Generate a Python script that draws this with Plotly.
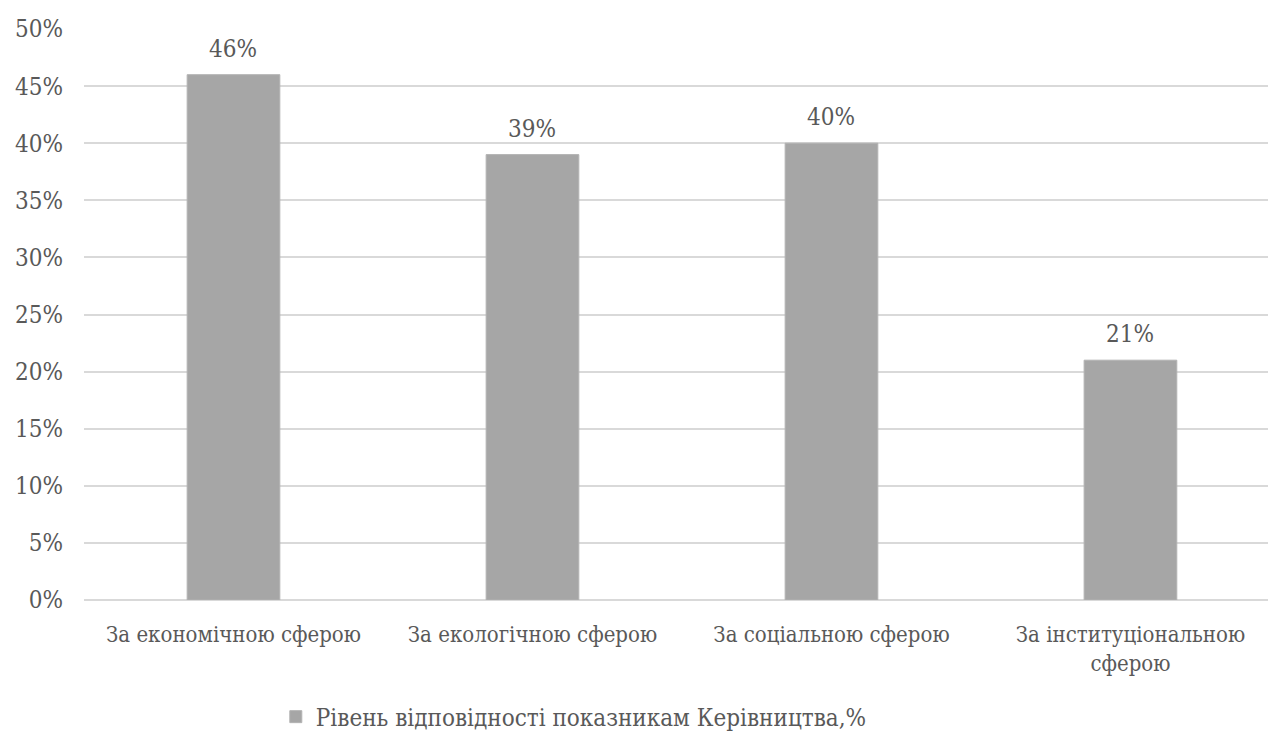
import plotly.graph_objects as go

categories = ["За економічною сферою", "За екологічною сферою", "За соціальною сферою", "За інституціональною<br>сферою"]
values = [46, 39, 40, 21]
series_name = "Рівень відповідності показникам Керівництва,%"
y_ticks = [0, 5, 10, 15, 20, 25, 30, 35, 40, 45, 50]
y_tick_labels = [f"{v}%" for v in y_ticks]
value_labels = [f"{v}%" for v in values]

FONT = "DejaVu Serif Condensed, DejaVu Serif"
TXT = "#595959"

def f(size):
    return dict(family=FONT, size=size, color=TXT)

fig = go.Figure()
fig.add_trace(go.Bar(
    x=categories, y=values, name=series_name,
    marker=dict(color="#a6a6a6", line=dict(color="#b3b3b3", width=1)),
    width=0.31, showlegend=True,
))
for c, v, t in zip(categories, values, value_labels):
    fig.add_annotation(x=c, y=v, text=t, showarrow=False, yanchor="bottom", yshift=10, font=f(24))

fig.update_layout(
    width=1268, height=738,
    margin=dict(l=84, r=0, t=29, b=138, autoexpand=False),
    paper_bgcolor="white", plot_bgcolor="white",
    font=f(22),
    legend=dict(orientation="h", x=0.162, xanchor="left", y=-0.205, yanchor="middle",
                font=f(24), itemwidth=30),
    bargap=0.69,
)
fig.update_xaxes(range=[-0.5, 3.46], showgrid=False, showline=False, zeroline=False,
                 ticks="", ticklabelstandoff=19, tickfont=f(22))
fig.update_yaxes(range=[0, 50], tickvals=y_ticks, ticktext=y_tick_labels, showgrid=True,
                 gridcolor="#d9d9d9", gridwidth=2, zeroline=True, zerolinecolor="#d9d9d9",
                 zerolinewidth=2, showline=False, ticks="", ticklabelstandoff=20,
                 tickfont=f(24))

fig.write_html("out.html")
